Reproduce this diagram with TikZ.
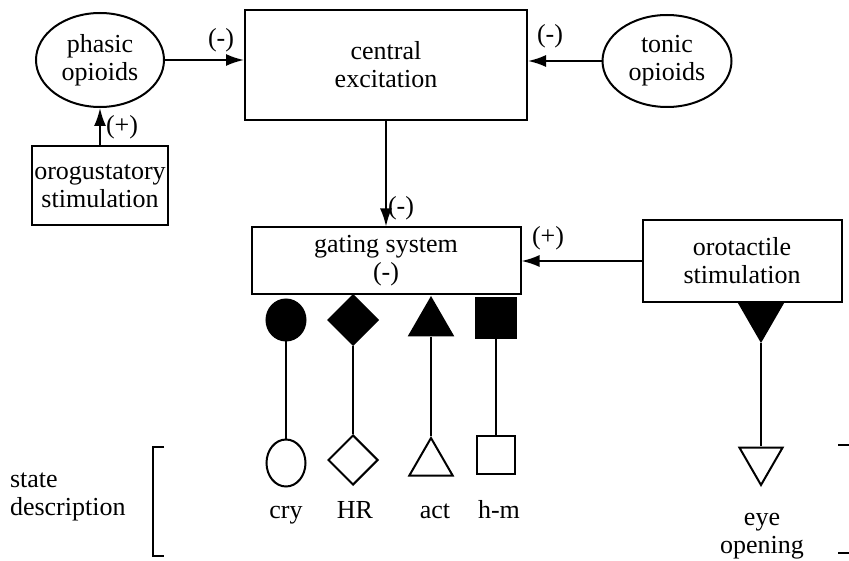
\documentclass[tikz,border=0pt]{standalone}
\usepackage{fontspec}
\setmainfont{Liberation Serif}
\usetikzlibrary{shapes.geometric,arrows.meta}

\begin{document}
\begin{tikzpicture}[x=1pt, y=-1pt, line width=2pt,
  font=\fontsize{26pt}{28pt}\selectfont,
  box/.style={draw, rectangle, align=center, inner sep=0pt},
  blob/.style={draw, ellipse, align=center, inner sep=0pt},
  lbl/.style={inner sep=0pt, align=center},
  link/.style={-{Latex[length=18pt,width=12pt]}},
  tri/.style={draw, regular polygon, regular polygon sides=3, inner sep=0pt, minimum size=50pt}]
  \useasboundingbox (0,0) rectangle (849,561);

  % top row
  \node[blob, minimum width=128pt, minimum height=94pt] (phasic) at (100,60) {phasic\\opioids};
  \node[box, minimum width=282pt, minimum height=110pt] (central) at (386,65) {central\\excitation};
  \node[blob, minimum width=129pt, minimum height=92pt] (tonic) at (667,61) {tonic\\opioids};
  \node[box, minimum width=136pt, minimum height=79pt] (orogust) at (100,186) {orogustatory\\stimulation};

  \draw[link] (phasic.east) -- (phasic.east -| central.west);
  \draw[link] (tonic.west) -- (tonic.west -| central.east);
  \draw[link] (orogust.north) -- (phasic.south);

  \node[lbl] (signA) at (221,40) {(-)};
  \node[lbl] (signB) at (550,36) {(-)};
  \node[lbl] (signC) at (122,127) {(+)};

  % gating
  \node[box, minimum width=269pt, minimum height=67pt] (gating) at (386,261) {gating system\\(-)};
  \node[box, minimum width=199pt, minimum height=82pt] (orotact) at (742,261) {orotactile\\stimulation};

  \draw[link] (central.south) -- (gating.north);
  \draw[link] (orotact.west) -- (orotact.west -| gating.east);

  \node[lbl] (signD) at (401,208) {(-)};
  \node[lbl] (signE) at (548,238) {(+)};

  % filled and open symbols
  \node[draw, fill, ellipse, inner sep=0pt, minimum width=39pt, minimum height=41pt] (cryon) at (286,320) {};
  \node[draw, ellipse, inner sep=0pt, minimum width=39pt, minimum height=47pt] (cryoff) at (286,463) {};
  \node[draw, fill, diamond, inner sep=0pt, minimum size=50pt] (hron) at (353,320) {};
  \node[draw, diamond, inner sep=0pt, minimum size=50pt] (hroff) at (353,460) {};
  \node[tri, fill] (acton) at (431,323) {};
  \node[tri] (actoff) at (431,463) {};
  \node[draw, fill, rectangle, inner sep=0pt, minimum size=40pt] (hmon) at (496,318) {};
  \node[draw, rectangle, inner sep=0pt, minimum size=38pt] (hmoff) at (496,455) {};
  \node[tri, fill, shape border rotate=180] (eyeon) at (761,316) {};
  \node[tri, shape border rotate=180] (eyeoff) at (761,460) {};

  \draw (cryon) -- (cryoff);
  \draw (hron) -- (hroff);
  \draw (acton) -- (actoff);
  \draw (hmon) -- (hmoff);
  \draw (eyeon) -- (eyeoff);

  \node[lbl, anchor=base] (cry) at (286,518) {cry};
  \node[lbl, anchor=base] (hr) at (355,518) {HR};
  \node[lbl, anchor=base] (act) at (435,518) {act};
  \node[lbl, anchor=base] (hm) at (499,518) {h-m};
  \node[lbl] (eye) at (762,536) {eye\\opening};
  \node[lbl, align=left, anchor=west] (state) at (9,497) {state\\description};

  % brackets
  \draw (164,447) -- (153,447) -- (153,556) -- (164,556);
  \draw (838,445) -- (849,445);
  \draw (838,553) -- (849,553);
\end{tikzpicture}
\end{document}
